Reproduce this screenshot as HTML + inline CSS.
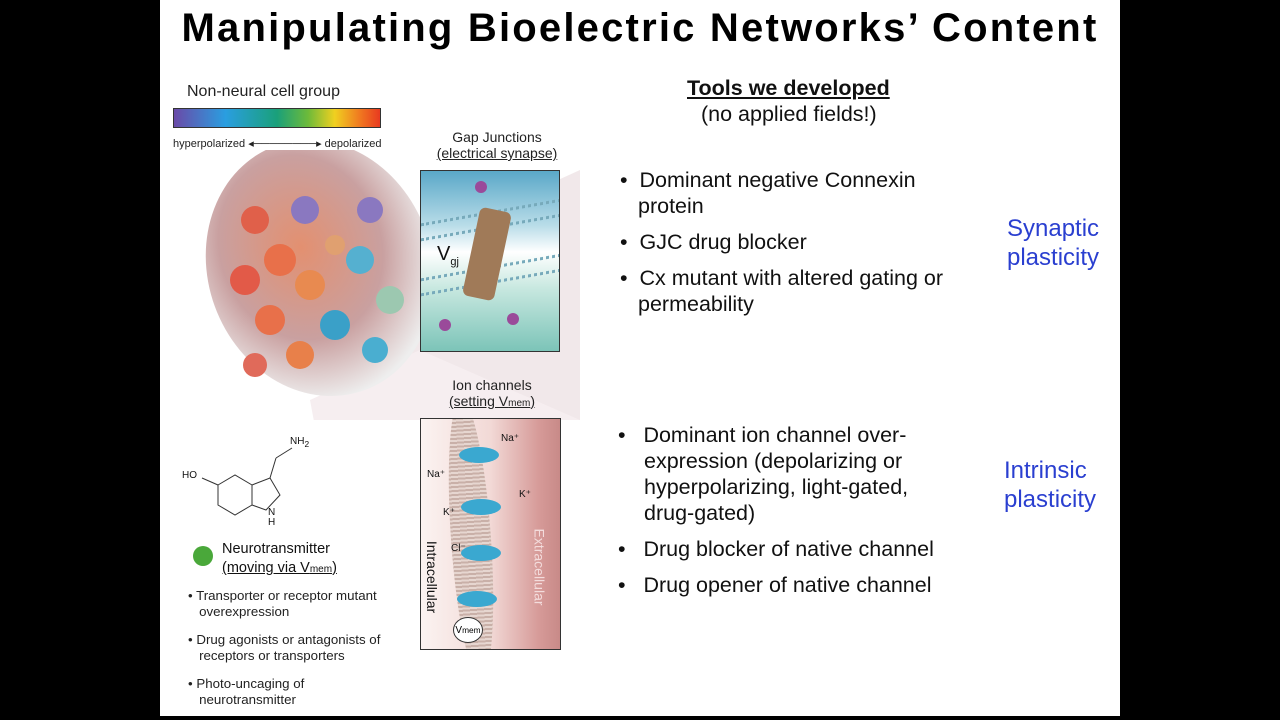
<!DOCTYPE html>
<html><head><meta charset="utf-8"><style>
body{margin:0;width:1280px;height:720px;background:#000;position:relative;overflow:hidden;font-family:"Liberation Sans",sans-serif}
.slide{position:absolute;left:160px;top:0;width:960px;height:716px;background:#fff}
.t{position:absolute;white-space:nowrap;color:#111}
h1{position:absolute;left:0;top:6px;width:960px;margin:0;text-align:center;font:bold 40px "Liberation Sans",sans-serif;letter-spacing:2.2px;color:#000;white-space:nowrap}
.b{font-size:21.5px;line-height:26px;color:#111}
.b div{padding-left:18px;text-indent:-18px}
.blue{color:#2a3fd0;font-size:24px;line-height:29px}
.s{font-size:13.3px;line-height:16px;color:#222}
</style></head><body>
<div class="slide">
<h1>Manipulating Bioelectric Networks’ Content</h1>

<div class="t" style="left:27px;top:83px;font-size:16px;color:#222">Non-neural cell group</div>
<div style="position:absolute;left:13px;top:108px;width:206px;height:18px;border:1px solid #333;background:linear-gradient(90deg,#6a4aa8,#2a9ee0 25%,#1aa07a 50%,#6cba3a 65%,#f0d020 78%,#f07a20 90%,#e83a20)"></div>
<div class="t s" style="left:13px;top:136px;font-size:11px">hyperpolarized ◂────────▸ depolarized</div>

<svg style="position:absolute;left:0;top:150px" width="420" height="270">
<defs><radialGradient id="g" cx="45%" cy="40%" r="60%"><stop offset="0" stop-color="#e39070"/><stop offset="0.6" stop-color="#c9a0a0"/><stop offset="1" stop-color="#eee"/></radialGradient></defs>
<polygon points="200,120 420,20 420,360 240,240" fill="#f1e8ea"/>
<polygon points="150,250 260,200 420,270 420,500 200,520" fill="#f6eef0"/>
<ellipse cx="160" cy="118" rx="112" ry="130" fill="url(#g)" transform="rotate(-20 160 118)"/>
<g>
<circle cx="95" cy="70" r="14" fill="#e0604a"/><circle cx="145" cy="60" r="14" fill="#8a78c0"/><circle cx="120" cy="110" r="16" fill="#e8704a"/>
<circle cx="85" cy="130" r="15" fill="#e25a48"/><circle cx="150" cy="135" r="15" fill="#e88a50"/><circle cx="175" cy="175" r="15" fill="#3aa0c8"/>
<circle cx="200" cy="110" r="14" fill="#55b0d0"/><circle cx="210" cy="60" r="13" fill="#8a78c0"/><circle cx="230" cy="150" r="14" fill="#9cc8b0"/>
<circle cx="110" cy="170" r="15" fill="#e8704a"/><circle cx="140" cy="205" r="14" fill="#e8804a"/><circle cx="215" cy="200" r="13" fill="#4aaed0"/>
<circle cx="95" cy="215" r="12" fill="#e06a5a"/><circle cx="175" cy="95" r="10" fill="#e0a070"/>
</g>
</svg>

<div class="t" style="left:267px;top:129px;width:140px;font-size:14px;color:#222;text-align:center;line-height:16px">Gap Junctions<br><u>(electrical synapse)</u></div>
<div style="position:absolute;left:260px;top:170px;width:138px;height:180px;border:1.5px solid #333;background:linear-gradient(180deg,#5aa8c8,#b8dce8 30%,#fff 45%,#c8e8e0 65%,#7cc4b8);overflow:hidden">
 <div style="position:absolute;left:0;top:40px;width:140px;height:12px;border-top:3px dotted #7ab;border-bottom:3px dotted #7ab;transform:skewY(-10deg)"></div>
 <div style="position:absolute;left:0;top:95px;width:140px;height:12px;border-top:3px dotted #7ab;border-bottom:3px dotted #7ab;transform:skewY(-10deg)"></div>
 <div style="position:absolute;left:50px;top:38px;width:32px;height:90px;background:#a07a58;border-radius:6px;transform:rotate(12deg)"></div>
 <div class="t" style="left:16px;top:72px;font-size:20px">V<sub style="font-size:11px">gj</sub></div>
 <div style="position:absolute;left:54px;top:10px;width:12px;height:12px;border-radius:50%;background:#9a4a9a"></div>
 <div style="position:absolute;left:86px;top:142px;width:12px;height:12px;border-radius:50%;background:#9a4a9a"></div>
 <div style="position:absolute;left:18px;top:148px;width:12px;height:12px;border-radius:50%;background:#9a4a9a"></div>
</div>

<div class="t" style="left:262px;top:377px;width:140px;font-size:14px;color:#222;text-align:center;line-height:16px">Ion channels<br><u>(setting V<span style="font-size:10px">mem</span>)</u></div>
<div style="position:absolute;left:260px;top:418px;width:139px;height:230px;border:1.5px solid #333;background:linear-gradient(90deg,#fbf3f1,#f2d9d6 50%,#d69a98 85%,#c88a88);overflow:hidden">
 <div style="position:absolute;left:30px;top:-20px;width:40px;height:280px;background:repeating-linear-gradient(0deg,#c9b0a8 0 2px,#e6d6d0 2px 4px);border-radius:50%;transform:rotate(-4deg)"></div>
 <div style="position:absolute;left:38px;top:28px;width:40px;height:16px;background:#3aa8d0;border-radius:50%"></div>
 <div style="position:absolute;left:40px;top:80px;width:40px;height:16px;background:#3aa8d0;border-radius:50%"></div>
 <div style="position:absolute;left:40px;top:126px;width:40px;height:16px;background:#3aa8d0;border-radius:50%"></div>
 <div style="position:absolute;left:36px;top:172px;width:40px;height:16px;background:#3aa8d0;border-radius:50%"></div>
 <div style="position:absolute;left:32px;top:198px;width:28px;height:24px;background:#fff;border:1px solid #333;border-radius:50%;font-size:10px;text-align:center;line-height:24px">V<small>mem</small></div>
 <div class="t" style="left:80px;top:14px;font-size:10px">Na⁺</div><div class="t" style="left:6px;top:50px;font-size:10px">Na⁺</div>
 <div class="t" style="left:98px;top:70px;font-size:10px">K⁺</div><div class="t" style="left:22px;top:88px;font-size:10px">K⁺</div>
 <div class="t" style="left:30px;top:124px;font-size:10px">Cl⁻</div>
 <div class="t" style="left:-25px;top:150px;font-size:14px;transform:rotate(90deg)">Intracellular</div>
 <div class="t" style="left:80px;top:140px;font-size:14px;color:#f3dcdc;transform:rotate(90deg)">Extracellular</div>
</div>

<svg style="position:absolute;left:20px;top:430px" width="140" height="100" fill="none" stroke="#333" stroke-width="1">
<polygon points="38,55 55,45 72,55 72,75 55,85 38,75"/><polygon points="72,55 90,48 100,65 86,80 72,75"/>
<line x1="38" y1="55" x2="22" y2="48"/><line x1="90" y1="48" x2="96" y2="28"/><line x1="96" y1="28" x2="112" y2="18"/>
</svg>
<div class="t" style="left:22px;top:470px;font-size:10px">HO</div>
<div class="t" style="left:130px;top:436px;font-size:10px">NH<sub>2</sub></div>
<div class="t" style="left:108px;top:508px;font-size:10px;line-height:10px">N<br>H</div>

<div style="position:absolute;left:33px;top:546px;width:20px;height:20px;border-radius:50%;background:#4aa83a"></div>
<div class="t" style="left:62px;top:540px;font-size:14.5px;line-height:19px">Neurotransmitter<br><u>(moving via V<span style="font-size:10px">mem</span>)</u></div>
<div class="t s" style="left:28px;top:588px">• Transporter or receptor mutant<br>&nbsp;&nbsp;&nbsp;overexpression</div>
<div class="t s" style="left:28px;top:632px">• Drug agonists or antagonists of<br>&nbsp;&nbsp;&nbsp;receptors or transporters</div>
<div class="t s" style="left:28px;top:676px">• Photo-uncaging of<br>&nbsp;&nbsp;&nbsp;neurotransmitter</div>

<div class="t" style="left:527px;top:76px;font-size:21.5px;font-weight:bold;text-decoration:underline">Tools we developed</div>
<div class="t" style="left:541px;top:102px;font-size:21.5px">(no applied fields!)</div>

<div class="b" style="position:absolute;left:460px;top:167px;width:335px">
<div>•&nbsp;&nbsp;Dominant negative Connexin protein</div>
<div style="margin-top:10px">•&nbsp;&nbsp;GJC drug blocker</div>
<div style="margin-top:10px">•&nbsp;&nbsp;Cx mutant with altered gating or permeability</div>
</div>

<div class="b" style="position:absolute;left:458px;top:422px;width:330px">
<div style="padding-left:26px;text-indent:-26px">•&nbsp;&nbsp;&nbsp;Dominant ion channel over-expression (depolarizing or hyperpolarizing, light-gated, drug-gated)</div>
<div style="margin-top:10px;padding-left:26px;text-indent:-26px">•&nbsp;&nbsp;&nbsp;Drug blocker of native channel</div>
<div style="margin-top:10px;padding-left:26px;text-indent:-26px">•&nbsp;&nbsp;&nbsp;Drug opener of native channel</div>
</div>

<div class="t blue" style="left:847px;top:214px">Synaptic<br>plasticity</div>
<div class="t blue" style="left:844px;top:456px">Intrinsic<br>plasticity</div>
</div>
</body></html>
